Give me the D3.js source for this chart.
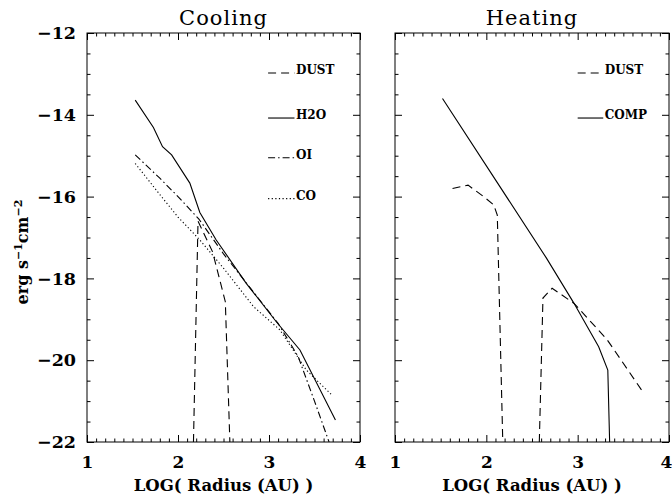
<!DOCTYPE html>
<html>
<head>
<meta charset="utf-8">
<script src="https://cdn.jsdelivr.net/npm/d3@7"></script>
<style>
  html, body { margin: 0; padding: 0; background: #fff; }
  svg { display: block; }
  text { font-family: "DejaVu Serif", "Liberation Serif", serif; fill: #000; }
</style>
</head>
<body>
<svg id="chart" width="672" height="498"></svg>
<script>
// Axis ticks
const xMajor = [1, 2, 3, 4];
const yMajor = [-22, -20, -18, -16, -14, -12];

// Cooling rates (log erg s^-1 cm^-2) vs log radius (AU)
const coolH2OX = [1.53, 1.73, 1.83, 1.93, 2.13, 2.24, 2.42, 2.75, 3.08, 3.34, 3.73];
const coolH2OY = [-13.64, -14.31, -14.78, -14.98, -15.67, -16.39, -17.06, -18.12, -19.06, -19.75, -21.46];

const coolOIX = [1.53, 1.80, 2.00, 2.23, 2.50, 2.80, 3.10, 3.32, 3.50, 3.66];
const coolOIY = [-14.98, -15.55, -16.0, -16.55, -17.4, -18.25, -19.1, -19.91, -21.0, -22.0];

const coolCOX = [1.53, 1.80, 2.00, 2.24, 2.50, 2.83, 3.12, 3.41, 3.69];
const coolCOY = [-15.19, -15.95, -16.5, -17.06, -17.75, -18.69, -19.26, -20.24, -20.85];

const coolDustX = [2.17, 2.22, 2.38, 2.52, 2.57];
const coolDustY = [-22.0, -16.6, -17.35, -18.57, -22.0];

// Heating rates
const heatCompX = [1.52, 2.66, 2.96, 3.23, 3.33, 3.35];
const heatCompY = [-13.6, -17.51, -18.61, -19.67, -20.24, -22.0];

// null marks the stretch where dust heating drops off the bottom of the panel
const heatDustX = [1.63, 1.80, 1.97, 2.08, 2.12, 2.18, null, 2.58, 2.62, 2.72, 2.96, 3.32, 3.70];
const heatDustY = [-15.80, -15.72, -16.0, -16.2, -16.45, -22.0, null, -22.0, -18.48, -18.24, -18.61, -19.49, -20.73];

const coolLegend = ["DUST", "H2O", "OI", "CO"];
const heatLegend = ["DUST", "COMP"];

const DASH = "8,5";
const DASHDOT = "7,3,1.5,3";
const DOT = "1.2,2.4";

const svg = d3.select("#chart");
svg.append("rect").attr("width", 672).attr("height", 498).attr("fill", "#fff");

const yScale = d3.scaleLinear().domain([-22, -12]).range([442, 33]);

function zip(xs, ys) { return xs.map((x, i) => ({ x: x, y: ys[i] })); }

function panel(opts) {
  const x = d3.scaleLinear().domain([1, 4]).range(opts.range);
  const y = yScale;
  const g = svg.append("g");
  const [x0, x1] = opts.range;
  const [yb, yt] = y.range();

  const clipId = "clip-" + opts.id;
  svg.append("clipPath").attr("id", clipId)
    .append("rect").attr("x", x0).attr("y", yt).attr("width", x1 - x0).attr("height", yb - yt);

  const xMinor = d3.range(10, 41).map(d => d / 10).filter(v => !xMajor.includes(v));
  const yMinor = d3.range(-44, -23).map(d => d / 2).filter(v => !yMajor.includes(v));

  const style = sel => {
    sel.select(".domain").remove();
    sel.selectAll("line").attr("stroke", "#000").attr("stroke-width", 1);
  };

  // bottom
  g.append("g").attr("transform", `translate(0,${yb})`)
    .call(d3.axisBottom(x).tickValues(xMajor).tickSize(-7).tickPadding(14).tickFormat(d3.format("d")))
    .call(style)
    .call(s => s.selectAll("text").attr("font-size", 17).attr("font-weight", "bold").attr("font-family", "DejaVu Serif"))
    .call(s => s.selectAll(".tick text").filter(d => opts.lastShift && d === 4).attr("dx", opts.lastShift));
  g.append("g").attr("transform", `translate(0,${yb})`)
    .call(d3.axisBottom(x).tickValues(xMinor).tickSize(-3.5).tickFormat(""))
    .call(style);
  // top
  g.append("g").attr("transform", `translate(0,${yt})`)
    .call(d3.axisTop(x).tickValues(xMajor).tickSize(-7).tickFormat(""))
    .call(style);
  g.append("g").attr("transform", `translate(0,${yt})`)
    .call(d3.axisTop(x).tickValues(xMinor).tickSize(-3.5).tickFormat(""))
    .call(style);
  // left
  const left = d3.axisLeft(y).tickValues(yMajor).tickSize(-7).tickPadding(11);
  if (!opts.yLabels) left.tickFormat("");
  g.append("g").attr("transform", `translate(${x0},0)`)
    .call(left)
    .call(style)
    .call(s => s.selectAll("text").attr("font-size", 17.5).attr("font-weight", "bold").attr("font-family", "DejaVu Serif"));
  g.append("g").attr("transform", `translate(${x0},0)`)
    .call(d3.axisLeft(y).tickValues(yMinor).tickSize(-3.5).tickFormat(""))
    .call(style);
  // right
  g.append("g").attr("transform", `translate(${x1},0)`)
    .call(d3.axisRight(y).tickValues(yMajor).tickSize(-7).tickFormat(""))
    .call(style);
  g.append("g").attr("transform", `translate(${x1},0)`)
    .call(d3.axisRight(y).tickValues(yMinor).tickSize(-3.5).tickFormat(""))
    .call(style);

  // frame
  g.append("rect").attr("x", x0).attr("y", yt).attr("width", x1 - x0).attr("height", yb - yt)
    .attr("fill", "none").attr("stroke", "#000").attr("stroke-width", 1);

  // curves
  const line = d3.line().defined(d => d.x != null && d.y != null).x(d => x(d.x)).y(d => y(d.y));
  const curves = g.append("g").attr("clip-path", `url(#${clipId})`);
  opts.series.forEach(s => {
    curves.append("path").datum(zip(s.xs, s.ys))
      .attr("d", line).attr("fill", "none").attr("stroke", "#000")
      .attr("stroke-width", 1.1).attr("stroke-dasharray", s.dash || null);
  });

  // legend
  const lg = g.append("g");
  opts.legend.forEach((name, i) => {
    const ly = y(opts.legendY[i]);
    lg.append("line").attr("x1", x(opts.legendX[0])).attr("x2", x(opts.legendX[1]))
      .attr("y1", ly + 2).attr("y2", ly + 2)
      .attr("stroke", "#000").attr("stroke-width", 1.1)
      .attr("stroke-dasharray", opts.legendDash[i] || null);
    lg.append("text").attr("x", x(opts.legendX[1]) + 1.5).attr("y", ly + 3)
      .attr("font-size", 12).attr("font-weight", "bold").text(name);
  });

  // title
  g.append("text").attr("x", (x0 + x1) / 2).attr("y", 25).attr("text-anchor", "middle")
    .attr("font-size", 21).attr("letter-spacing", 1).text(opts.title);
  // x label
  g.append("text").attr("x", (x0 + x1) / 2).attr("y", 491).attr("text-anchor", "middle")
    .attr("font-size", 16.5).attr("font-weight", "bold").text("LOG( Radius (AU) )");
}

panel({
  id: "cool", range: [87, 360], yLabels: true, title: "Cooling",
  series: [
    { xs: coolDustX, ys: coolDustY, dash: DASH },
    { xs: coolH2OX, ys: coolH2OY },
    { xs: coolOIX, ys: coolOIY, dash: DASHDOT },
    { xs: coolCOX, ys: coolCOY, dash: DOT }
  ],
  legend: coolLegend,
  legendY: [-12.93, -14.03, -15.0, -16.0],
  legendX: [2.99, 3.28],
  legendDash: [DASH, null, DASHDOT, DOT]
});

panel({
  id: "heat", range: [395, 669], yLabels: false, title: "Heating", lastShift: -3,
  series: [
    { xs: heatDustX, ys: heatDustY, dash: DASH },
    { xs: heatCompX, ys: heatCompY }
  ],
  legend: heatLegend,
  legendY: [-12.93, -14.03],
  legendX: [3.0, 3.28],
  legendDash: [DASH, null]
});

// y-axis title with superscripts
const yl = svg.append("text")
  .attr("transform", "translate(28,252) rotate(-90)")
  .attr("text-anchor", "middle").attr("font-size", 16).attr("font-weight", "bold");
yl.append("tspan").text("erg s");
yl.append("tspan").attr("baseline-shift", "super").attr("font-size", 11).text("−1");
yl.append("tspan").text("cm");
yl.append("tspan").attr("baseline-shift", "super").attr("font-size", 11).text("−2");
</script>
</body>
</html>
